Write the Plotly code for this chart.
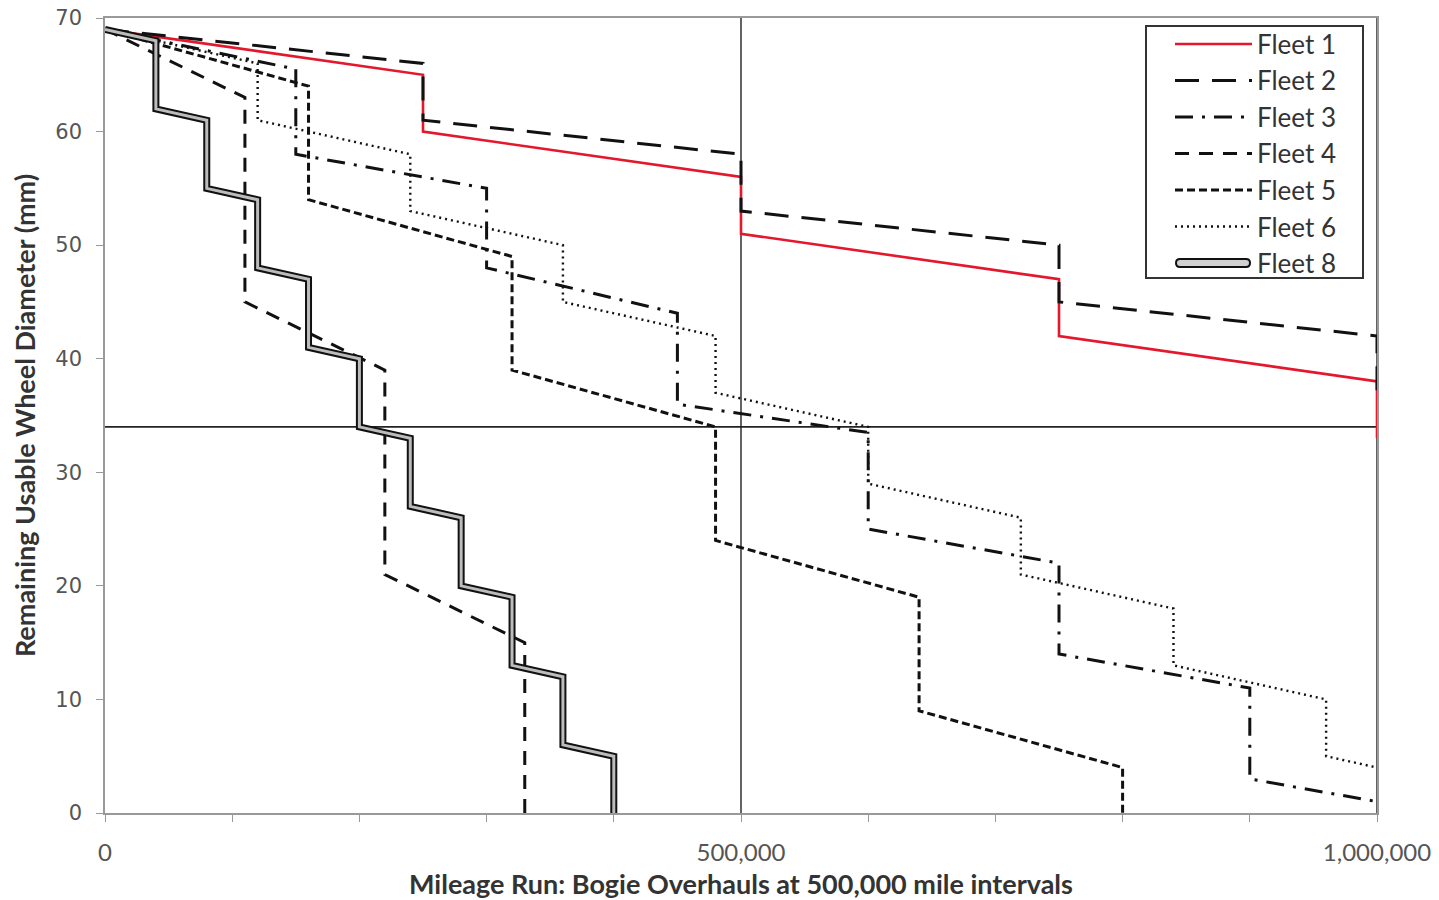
import plotly.graph_objects as go

# ---------------- data ----------------
fleet1_x = [0, 250000, 250000, 500000, 500000, 750000, 750000, 1000000, 1000000]
fleet1_y = [69, 65, 60, 56, 51, 47, 42, 38, 33]

fleet2_x = [0, 250000, 250000, 500000, 500000, 750000, 750000, 1000000, 1000000]
fleet2_y = [69, 66, 61, 58, 53, 50, 45, 42, 37]

fleet3_x = [0, 150000, 150000, 300000, 300000, 450000, 450000, 600000, 600000,
            750000, 750000, 900000, 900000, 1000000]
fleet3_y = [69, 65.5, 58, 55, 48, 44, 36, 33.5, 25, 22, 14, 11, 3, 1]

fleet4_x = [0, 110000, 110000, 220000, 220000, 330000, 330000]
fleet4_y = [69, 63, 45, 39, 21, 15, 0]

fleet5_x = [0, 160000, 160000, 320000, 320000, 480000, 480000, 640000, 640000, 800000, 800000]
fleet5_y = [69, 64, 54, 49, 39, 34, 24, 19, 9, 4, 0]

fleet6_x = [0, 120000, 120000, 240000, 240000, 360000, 360000, 480000, 480000, 600000, 600000,
            720000, 720000, 840000, 840000, 960000, 960000, 1000000]
fleet6_y = [69, 66, 61, 58, 53, 50, 45, 42, 37, 34, 29, 26, 21, 18, 13, 10, 5, 4]

fleet8_x = [0, 40000, 40000, 80000, 80000, 120000, 120000, 160000, 160000, 200000, 200000,
            240000, 240000, 280000, 280000, 320000, 320000, 360000, 360000, 400000, 400000]
fleet8_y = [69, 68, 62, 61, 55, 54, 48, 47, 41, 40, 34, 33, 27, 26, 20, 19, 13, 12, 6, 5, 0]

overhaul_interval = 500000
min_diameter_line = 34
x_max = 1000000
y_max = 70

x_tickvals = [0, 100000, 200000, 300000, 400000, 500000, 600000, 700000, 800000, 900000, 1000000]
x_ticktext = ["0", "", "", "", "", "500,000", "", "", "", "", "1,000,000"]
y_tickvals = [0, 10, 20, 30, 40, 50, 60, 70]

# ---------------- styles ----------------
BLACK = "#111111"
styles = {
    "Fleet 1": dict(color="#e3182d", width=2.6, dash="solid"),
    "Fleet 2": dict(color=BLACK, width=3, dash="24px,13px"),
    "Fleet 3": dict(color=BLACK, width=3, dash="18px,9px,3px,9px"),
    "Fleet 4": dict(color=BLACK, width=3, dash="14px,10px"),
    "Fleet 5": dict(color=BLACK, width=3, dash="8px,4px"),
    "Fleet 6": dict(color=BLACK, width=2.4, dash="2px,4px"),
}
series = [
    ("Fleet 1", fleet1_x, fleet1_y),
    ("Fleet 2", fleet2_x, fleet2_y),
    ("Fleet 3", fleet3_x, fleet3_y),
    ("Fleet 4", fleet4_x, fleet4_y),
    ("Fleet 5", fleet5_x, fleet5_y),
    ("Fleet 6", fleet6_x, fleet6_y),
]

fig = go.Figure()
for name, xs, ys in series:
    fig.add_trace(go.Scatter(x=xs, y=ys, mode="lines", name=name,
                             line=styles[name], showlegend=False))
# Fleet 8: double line (black outer, grey inner)
fig.add_trace(go.Scatter(x=fleet8_x, y=fleet8_y, mode="lines", name="Fleet 8",
                         line=dict(color=BLACK, width=7), showlegend=False))
fig.add_trace(go.Scatter(x=fleet8_x, y=fleet8_y, mode="lines", name="Fleet 8",
                         line=dict(color="#bcbcbc", width=3), showlegend=False,
                         hoverinfo="skip"))

# ---------------- geometry (body margin removed by post_script) ----------------
OFF = 0
W, H = 1439, 900
# target plot area in page pixels: left 105, right 1377, top 18, bottom 813
ML = 105 - OFF
MT = 18 - OFF
MR = W - (1377 - OFF)
MB = H - (813 - OFF)
PW, PH = W - ML - MR, H - MT - MB


def px(x):
    """page pixel x -> paper"""
    return (x - OFF - ML) / PW


def py(y):
    """page pixel y -> paper"""
    return (H - MB - (y - OFF)) / PH


shapes = []
# reference lines
shapes.append(dict(type="line", xref="x", yref="y", x0=overhaul_interval, x1=overhaul_interval,
                   y0=0, y1=y_max, line=dict(color="#222", width=1.4), layer="below"))
shapes.append(dict(type="line", xref="x", yref="y", x0=x_max, x1=x_max,
                   y0=0, y1=y_max, line=dict(color="#222", width=1.4), layer="below"))
shapes.append(dict(type="line", xref="x", yref="y", x0=0, x1=x_max,
                   y0=min_diameter_line, y1=min_diameter_line,
                   line=dict(color="#222", width=1.6), layer="below"))

# legend box
shapes.append(dict(type="rect", xref="paper", yref="paper",
                   x0=px(1146), x1=px(1363), y0=py(278), y1=py(26),
                   line=dict(color="#333", width=2), fillcolor="white"))

annotations = []
legend_rows = ["Fleet 1", "Fleet 2", "Fleet 3", "Fleet 4", "Fleet 5", "Fleet 6", "Fleet 8"]
row_y = [44, 80.5, 117, 153.5, 190, 226.5, 263]
sx0, sx1 = 1175, 1252
for name, ry in zip(legend_rows, row_y):
    if name in styles:
        st = styles[name]
        shapes.append(dict(type="line", xref="paper", yref="paper",
                           x0=px(sx0), x1=px(sx1), y0=py(ry), y1=py(ry),
                           line=dict(color=st["color"], width=st["width"], dash=st["dash"])))
    else:
        L, R, C, h = sx0 + 1, sx1 - 2, ry, 4
        path = (f"M {px(L+h)},{py(C-h)} L {px(R-h)},{py(C-h)} "
                f"Q {px(R)},{py(C-h)} {px(R)},{py(C)} Q {px(R)},{py(C+h)} {px(R-h)},{py(C+h)} "
                f"L {px(L+h)},{py(C+h)} Q {px(L)},{py(C+h)} {px(L)},{py(C)} "
                f"Q {px(L)},{py(C-h)} {px(L+h)},{py(C-h)} Z")
        shapes.append(dict(type="path", xref="paper", yref="paper", path=path,
                           line=dict(color=BLACK, width=2), fillcolor="#d0d0d0"))
    annotations.append(dict(xref="paper", yref="paper", x=px(1255), y=py(ry),
                            xanchor="left", yanchor="middle", showarrow=False,
                            text=name, font=dict(family="Lato", size=26, color="#333")))

fig.update_layout(
    width=W, height=H,
    margin=dict(l=ML, r=MR, t=MT, b=MB, autoexpand=False),
    paper_bgcolor="white", plot_bgcolor="white",
    shapes=shapes, annotations=annotations,
    showlegend=False,
    xaxis=dict(range=[0, x_max], tickvals=x_tickvals, ticktext=x_ticktext,
               automargin=False, ticklabeloverflow="allow",
               ticks="outside", ticklen=7, tickcolor="#999", tickwidth=1.3,
               showline=True, linecolor="#999", linewidth=1.6, mirror=True,
               showgrid=False, zeroline=False, ticklabelstandoff=10,
               tickfont=dict(family="Lato", size=24, color="#555"),
               title=dict(text="<b>Mileage Run: Bogie Overhauls at 500,000 mile intervals</b>",
                          font=dict(family="Lato", size=27, color="#333"), standoff=18)),
    yaxis=dict(range=[0, y_max], tickvals=y_tickvals,
               automargin=False, ticklabeloverflow="allow",
               ticks="outside", ticklen=7, tickcolor="#999", tickwidth=1.3,
               showline=True, linecolor="#999", linewidth=1.6, mirror=True,
               showgrid=False, zeroline=False, ticklabelstandoff=10,
               tickfont=dict(family="DejaVu Sans", size=21, color="#555"),
               title=dict(text="<b>Remaining Usable Wheel Diameter (mm)</b>",
                          font=dict(family="Lato", size=27, color="#333"), standoff=12)),
)

fig.write_html("out.html",
               config={"displayModeBar": False},
               post_script="document.body.style.margin='0';document.body.style.overflow='hidden';")
